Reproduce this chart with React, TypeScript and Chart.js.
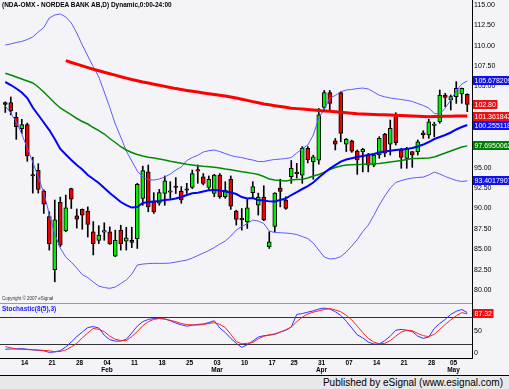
import React, { useEffect, useRef } from "react";
import { Chart, registerables } from "chart.js";

Chart.register(...registerables);

// ---- daily candles (trading-day index 0..84) ----
const OPEN = [
  103.0, 103.0, 101.2, 99.8, 100.3, 94.05, 94.7, 92.1, 89.0, 82.5,
  90.75, 87.25, 92.45, 89.1, 89.9, 89.7, 87.15, 86.1, 87.1, 87.15,
  84.15, 87.35, 86.0, 86.1, 86.3, 91.25, 94.5, 90.85, 90.65, 91.85,
  92.0, 92.62, 92.15, 92.3, 92.6, 94.65, 93.9, 92.6, 91.85, 94.1,
  91.45, 93.6, 89.7, 88.7, 88.4, 91.95, 90.4, 91.4, 85.3, 87.8,
  92.5, 91.05, 93.9, 94.32, 94.1, 97.4, 95.75, 95.95, 102.43, 104.23,
  98.3, 104.23, 97.9, 98.3, 97.06, 96.98, 96.57, 95.34, 96.6, 99.15,
  97.89, 101.5, 97.19, 96.17, 96.98, 96.98, 99.3, 99.03, 100.2, 100.66,
  103.94, 103.33, 103.74, 104.07, 104.03,
];
const HIGH = [
  103.1, 103.7, 101.8, 100.96, 100.5, 96.3, 95.5, 92.3, 89.6, 91.05,
  91.4, 91.65, 92.5, 89.95, 89.95, 90.2, 88.4, 87.9, 88.25, 87.75,
  87.35, 87.95, 87.7, 87.7, 93.1, 95.2, 95.35, 91.95, 92.35, 94.0,
  93.3, 93.8, 92.7, 93.1, 94.73, 95.35, 94.3, 94.0, 94.2, 94.3,
  93.3, 94.0, 89.8, 90.0, 91.25, 93.3, 91.9, 92.8, 87.15, 91.95,
  93.6, 91.45, 95.9, 95.55, 97.6, 97.6, 96.55, 102.3, 104.5, 104.5,
  98.6, 104.35, 98.6, 98.4, 97.19, 97.4, 96.78, 96.78, 98.82, 99.24,
  100.87, 101.77, 97.4, 97.52, 97.0, 98.42, 99.56, 100.96, 100.6, 104.56,
  104.15, 103.94, 105.58, 104.8, 104.1,
];
const LOW = [
  101.8, 101.5, 98.5, 99.2, 95.8, 91.9, 91.9, 89.4, 84.9, 81.0,
  85.3, 87.15, 90.0, 87.6, 87.45, 86.5, 84.3, 85.7, 86.1, 85.6,
  84.1, 84.9, 84.9, 85.2, 85.1, 90.4, 89.6, 89.4, 90.4, 90.4,
  91.25, 91.85, 90.65, 91.85, 92.45, 93.1, 92.9, 92.35, 91.45, 91.25,
  91.25, 89.9, 87.97, 87.35, 87.55, 91.25, 89.2, 88.5, 85.1, 87.15,
  90.2, 89.9, 93.1, 93.75, 93.1, 95.6, 93.6, 95.45, 101.9, 102.0,
  97.2, 98.2, 97.0, 96.9, 94.2, 94.5, 94.5, 95.13, 96.17, 96.36,
  96.57, 97.8, 94.94, 94.94, 95.06, 96.57, 98.62, 98.62, 98.8, 100.47,
  102.5, 102.1, 102.92, 102.92, 101.9,
];
const CLOSE = [
  102.8, 102.0, 100.05, 100.3, 96.45, 94.0, 92.35, 90.55, 85.65, 88.6,
  85.5, 90.1, 91.15, 88.7, 89.2, 88.05, 85.7, 86.75, 87.15, 85.65,
  86.1, 85.7, 86.4, 85.85, 92.97, 94.65, 90.2, 89.6, 91.95, 93.4,
  92.15, 92.58, 91.05, 92.25, 94.3, 94.6, 93.1, 93.6, 94.1, 91.45,
  92.27, 90.3, 88.67, 88.6, 90.1, 92.7, 91.4, 88.6, 85.9, 91.9,
  92.1, 90.0, 94.93, 94.28, 97.4, 96.0, 96.35, 101.5, 104.23, 102.9,
  97.9, 99.24, 98.5, 97.06, 95.96, 97.27, 95.34, 96.57, 98.62, 96.8,
  99.85, 98.08, 96.29, 97.4, 96.57, 98.2, 99.03, 100.66, 100.3, 103.94,
  103.66, 103.74, 104.77, 104.77, 102.8,
];

// ---- overlays ----
const BLUE_MA = [
  105.54, 105.17, 104.74, 104.25, 103.57, 102.41, 101.49, 100.57, 99.64, 98.54,
  97.31, 96.63, 95.96, 95.34, 94.79, 94.12, 93.62, 93.13, 92.52, 91.9,
  91.35, 90.8, 90.43, 90.12, 90.18, 90.68, 90.8, 90.86, 90.92, 91.04,
  91.11, 91.23, 91.41, 91.66, 91.87, 91.94, 92.09, 92.24, 92.27, 92.21,
  92.09, 91.97, 91.78, 91.41, 91.23, 91.29, 91.04, 90.98, 90.88, 90.86,
  91.04, 91.23, 91.66, 92.03, 92.4, 92.76, 93.19, 93.81, 94.36, 94.91,
  95.34, 95.77, 96.02, 96.17, 96.33, 96.45, 96.57, 96.7, 96.88, 97.0,
  97.09, 97.19, 97.25, 97.31, 97.43, 97.62, 97.86, 98.17, 98.54, 98.78,
  99.03, 99.34, 99.71, 100.01, 100.255118,
];
const GREEN_MA = [
  106.61, 106.4, 106.15, 105.91, 105.66, 105.42, 104.93, 104.31, 103.64, 102.96,
  102.35, 101.92, 101.49, 101.06, 100.69, 100.38, 99.95, 99.58, 99.15, 98.6,
  98.11, 97.59, 97.19, 96.88, 96.63, 96.45, 96.29, 96.2, 96.08, 95.96,
  95.8, 95.68, 95.55, 95.43, 95.34, 95.26, 95.18, 95.12, 95.06, 94.98,
  94.85, 94.75, 94.63, 94.51, 94.42, 94.32, 94.18, 93.93, 93.62, 93.5,
  93.44, 93.38, 93.5, 93.56, 93.59, 93.75, 93.99, 94.18, 94.48, 94.79,
  95.04, 95.22, 95.34, 95.37, 95.41, 95.43, 95.47, 95.49, 95.53, 95.63,
  95.71, 95.8, 95.9, 96.02, 96.14, 96.14, 96.17, 96.2, 96.33, 96.57,
  96.82, 97.06, 97.31, 97.56, 97.6950062,
];
const RED_MA = [
  null, null, null, null, null, null, null, null, null, null, null,
  108.16, 107.94, 107.73, 107.52, 107.31, 107.1, 106.92, 106.73, 106.56,
  106.38, 106.19, 106.02, 105.84, 105.69, 105.54, 105.41, 105.27, 105.14, 105.0,
  104.87, 104.73, 104.61, 104.5, 104.4, 104.3, 104.2, 104.1, 104.01, 103.91,
  103.81, 103.7, 103.58, 103.43, 103.28, 103.13, 102.99, 102.85, 102.74, 102.63,
  102.53, 102.43, 102.33, 102.27, 102.21, 102.15, 102.09, 102.04, 101.99, 101.94,
  101.88, 101.82, 101.76, 101.7, 101.63, 101.6, 101.57, 101.55, 101.52, 101.51,
  101.5, 101.47, 101.44, 101.4, 101.36, 101.33, 101.3, 101.28, 101.29, 101.31,
  101.33, 101.34, 101.35, 101.36, 101.361842,
];
const UPPER_BAND = [
  110.09, 110.21, 110.39, 110.52, 110.76, 111.07, 111.68, 112.24, 113.4, 113.77,
  113.89, 113.53, 112.79, 111.56, 110.09, 108.73, 107.42, 106.15, 104.31, 102.41,
  100.38, 98.78, 97.06, 95.84, 94.61, 93.87, 93.56, 93.5, 93.62, 93.87,
  94.24, 94.73, 95.1, 95.9, 96.26, 96.54, 96.94, 97.1, 97.19, 97.0,
  96.76, 96.51, 96.35, 96.26, 96.08, 95.96, 95.77, 95.77, 95.92, 96.02,
  96.08, 96.14, 96.26, 96.82, 97.37, 97.8, 99.03, 101.12, 102.22, 103.57,
  103.88, 104.35, 104.56, 104.62, 104.74, 104.8, 104.68, 104.31, 103.91, 103.72,
  103.57, 103.48, 103.39, 103.29, 103.15, 102.9, 102.65, 102.35, 101.67, 101.61,
  102.35, 103.33, 104.44, 105.3, 105.678209,
];
const LOWER_BAND = [
  102.59, 101.73, 100.63, 99.15, 97.43, 95.71, 93.87, 91.9, 89.32, 86.87,
  85.15, 84.04, 83.43, 82.69, 81.89, 81.52, 80.97, 80.48, 80.3, 80.2,
  80.36, 80.79, 81.22, 81.95, 83.06, 83.18, 83.24, 83.27, 83.27, 83.27,
  83.31, 83.43, 83.55, 83.67, 83.92, 84.23, 84.53, 84.84, 85.21, 85.64,
  86.01, 86.62, 87.36, 87.79, 88.16, 88.59, 88.46, 88.16, 87.24, 87.05,
  87.03, 86.99, 86.93, 86.81, 86.56, 86.31, 85.76, 84.9, 84.04, 83.8,
  83.86, 84.1, 84.66, 85.39, 86.19, 87.17, 87.97, 89.14, 90.43, 91.54,
  92.52, 93.19, 93.44, 93.62, 93.75, 93.81, 93.87, 94.12, 94.48, 94.24,
  93.93, 93.69, 93.44, 93.32, 93.4017907,
];

// ---- stochastic (8(5),3) ----
const STOCH_K = [
  9, 9.5, 10, 10.3, 9, 7.5, 6.5, 5.5, 2, 3,
  6, 14, 25, 37, 47, 57, 59, 56, 40, 30,
  27, 27, 31, 45, 60, 70, 75, 77, 77, 76,
  72, 67, 63, 60, 62, 64, 65, 68, 72, 56,
  46, 33, 22, 13, 19, 27, 36, 39, 40, 42,
  47, 51, 58, 86, 88, 91, 94, 98, 100, 98,
  92, 84, 71, 56, 41, 34, 25, 20.5, 20.6, 28,
  38, 51, 53, 51, 48, 38, 33, 36, 55, 66,
  75, 86, 93, 97, 90,
];
const STOCH_D = [
  14.7, 12, 9.5, 8.8, 8.2, 7.8, 7.4, 6.3, 5.5, 3.5,
  4, 7.5, 14, 22, 34, 45, 55, 53, 48, 38,
  31, 28.5, 28, 37, 48, 61, 70, 75, 77, 76,
  73, 70, 66, 63.5, 63, 62.6, 63.5, 66, 67.7, 64,
  57, 42, 26, 21, 22, 24, 32, 37.5, 41, 43,
  47, 52, 58, 70, 80, 87, 91, 94, 97, 99,
  96, 92, 84, 74, 60, 46, 33, 25, 21, 22,
  28, 38, 47, 51, 50, 44, 39, 37, 42, 53,
  64, 74, 83, 90, 87.32,
];

// ---- axis labels ----
const DAY_LABELS = ["14", "21", "28", "04", "11", "18", "25", "03", "10", "17", "25", "31", "07", "14", "21", "28", "05"];
const DAY_INDEX = [3, 8, 13, 18, 23, 28, 33, 38, 43, 48, 52, 57, 62, 67, 72, 77, 81];
const MONTH_LABELS = ["", "", "", "Feb", "", "", "", "Mar", "", "", "", "Apr", "", "", "", "", "May"];
const PRICE_TICKS = [80, 82.5, 85, 87.5, 90, 92.5, 95, 97.5, 100, 102.5, 105, 107.5, 110, 112.5, 115];
const STOCH_TICKS = [0, 20, 50, 80];

const X_MIN = -0.96;
const X_MAX = 84.86;
const FONT = "'Liberation Sans', Arial, sans-serif";
const BG = "#f4f4f8";
const AXIS_W = 37;

function drawBox(ctx: CanvasRenderingContext2D, x: number, y: number, text: string, color: string) {
  ctx.save();
  ctx.font = `7px ${FONT}`;
  const w = ctx.measureText(text).width + 3;
  ctx.fillStyle = color;
  ctx.fillRect(x, Math.round(y - 4.5), w, 9);
  ctx.fillStyle = "#ffffff";
  ctx.textBaseline = "middle";
  ctx.textAlign = "left";
  ctx.fillText(text, x + 1.5, Math.round(y - 4.5) + 5);
  ctx.restore();
}

export default function App() {
  const priceRef = useRef<HTMLCanvasElement | null>(null);
  const stochRef = useRef<HTMLCanvasElement | null>(null);

  useEffect(() => {
    if (!priceRef.current || !stochRef.current) return;
    Chart.defaults.font.family = FONT;
    const n = CLOSE.length;
    const idx = CLOSE.map((_, i) => i);
    const up = idx.map((i) => CLOSE[i] >= OPEN[i]);
    const pts = (arr: (number | null)[]) => arr.map((v, i) => ({ x: i, y: v }));
    const line = (arr: (number | null)[], color: string, width: number, order: number) => ({
      type: "line" as const,
      data: pts(arr),
      borderColor: color,
      borderWidth: width,
      pointRadius: 0,
      tension: 0,
      fill: false,
      order,
    });

    const priceBoxes = {
      id: "priceBoxes",
      afterDraw(chart: any) {
        const ys = chart.scales.y;
        const ctx = chart.ctx;
        const x = chart.chartArea.right + 1;
        const items: [number, string, string][] = [
          [UPPER_BAND[n - 1], String(UPPER_BAND[n - 1]), "#1010ee"],
          [CLOSE[n - 1], CLOSE[n - 1].toFixed(2), "#ee1010"],
          [RED_MA[n - 1] as number, String(RED_MA[n - 1]), "#ee1010"],
          [BLUE_MA[n - 1], String(BLUE_MA[n - 1]), "#1010ee"],
          [GREEN_MA[n - 1], String(GREEN_MA[n - 1]), "#008000"],
          [LOWER_BAND[n - 1], String(LOWER_BAND[n - 1]), "#1010ee"],
        ];
        items.forEach(([v, t, c]) => drawBox(ctx, x, ys.getPixelForValue(v), t, c));
      },
    };

    const price = new Chart(priceRef.current, {
      type: "line",
      data: {
        datasets: [
          {
            type: "bar",
            data: idx.map((i) => ({ x: i, y: [LOW[i], HIGH[i]] })) as any,
            backgroundColor: "#000000",
            borderWidth: 0,
            barThickness: 1,
            grouped: false,
            order: 10,
          },
          {
            type: "bar",
            data: idx.map((i) => ({ x: i, y: [OPEN[i], CLOSE[i]] })) as any,
            backgroundColor: up.map((u) => (u ? "#00ee00" : "#ee0000")),
            borderColor: "#000000",
            borderWidth: 1,
            borderSkipped: false,
            barThickness: 4,
            minBarLength: 1.5,
            grouped: false,
            order: 9,
          },
          line(UPPER_BAND, "#5a5aff", 1, 5),
          line(LOWER_BAND, "#5a5aff", 1, 5),
          line(GREEN_MA, "#008a00", 1.5, 3),
          line(BLUE_MA, "#0000ff", 2, 2),
          line(RED_MA, "#ff0000", 3, 1),
        ] as any,
      },
      options: {
        animation: false,
        responsive: false,
        layout: { padding: 0 },
        plugins: { legend: { display: false }, tooltip: { enabled: false } },
        scales: {
          x: { type: "linear", min: X_MIN, max: X_MAX, offset: false, display: false, grid: { offset: false } },
          y: {
            position: "right",
            min: 78.4,
            max: 115.61,
            afterFit: (s: any) => {
              s.width = AXIS_W;
              s.paddingTop = 0;
              s.paddingBottom = 0;
            },
            afterBuildTicks: (s: any) => {
              s.ticks = PRICE_TICKS.map((v) => ({ value: v }));
            },
            ticks: {
              callback: (v: any) => Number(v).toFixed(2),
              font: { size: 7 },
              color: "#000",
              padding: 2,
            },
            grid: { drawOnChartArea: false, drawTicks: false },
            border: { display: true, color: "#000", width: 1 },
          },
        },
      } as any,
      plugins: [priceBoxes],
    });

    const stochExtras = {
      id: "stochExtras",
      afterDraw(chart: any) {
        const ctx = chart.ctx;
        const a = chart.chartArea;
        ctx.save();
        ctx.strokeStyle = "#9a9a9a";
        ctx.lineWidth = 1;
        ctx.beginPath();
        ctx.moveTo(0, a.top + 0.5);
        ctx.lineTo(a.right, a.top + 0.5);
        ctx.stroke();
        ctx.restore();
        const ys = chart.scales.y;
        const v = STOCH_D[n - 1];
        drawBox(ctx, a.right + 1, ys.getPixelForValue(v), v.toFixed(2), "#ee1010");
      },
    };

    const stoch = new Chart(stochRef.current, {
      type: "line",
      data: {
        datasets: [
          line(STOCH_K, "#3030ff", 1, 2),
          line(STOCH_D, "#ff2020", 1, 1),
        ] as any,
      },
      options: {
        animation: false,
        responsive: false,
        layout: { padding: 0 },
        plugins: { legend: { display: false }, tooltip: { enabled: false } },
        scales: {
          x: {
            type: "linear",
            min: X_MIN,
            max: X_MAX,
            offset: false,
            position: "bottom",
            afterFit: (s: any) => {
              s.height = 17;
              s.paddingLeft = 0;
              s.paddingRight = 0;
            },
            afterBuildTicks: (s: any) => {
              s.ticks = DAY_INDEX.map((i) => ({ value: i + 0.5 }));
            },
            ticks: {
              autoSkip: false,
              maxRotation: 0,
              padding: 1,
              color: "#000",
              font: { size: 6.5, weight: "bold", lineHeight: 1.2 },
              callback: (_v: any, i: number) =>
                MONTH_LABELS[i] ? [DAY_LABELS[i], MONTH_LABELS[i]] : DAY_LABELS[i],
            },
            grid: { drawOnChartArea: false, drawTicks: false },
            border: { display: true, color: "#000", width: 1 },
          },
          y: {
            position: "right",
            min: -10.4,
            max: 111.3,
            afterFit: (s: any) => {
              s.width = AXIS_W;
              s.paddingTop = 0;
              s.paddingBottom = 0;
            },
            afterBuildTicks: (s: any) => {
              s.ticks = STOCH_TICKS.map((v) => ({ value: v }));
            },
            ticks: {
              callback: (v: any) => (v === 0 || v === 50 ? String(v) : ""),
              font: { size: 7 },
              color: "#000",
              padding: 2,
            },
            grid: {
              drawTicks: false,
              color: (c: any) =>
                c.tick && (c.tick.value === 20 || c.tick.value === 80) ? "#333333" : "rgba(0,0,0,0)",
            },
            border: { display: true, color: "#000", width: 1 },
          },
        },
      } as any,
      plugins: [stochExtras],
    });

    return () => {
      price.destroy();
      stoch.destroy();
    };
  }, []);

  return (
    <div
      style={{
        position: "fixed",
        left: 0,
        top: 0,
        width: 509,
        height: 389,
        background: BG,
        overflow: "hidden",
        fontFamily: FONT,
      }}
    >
      <canvas ref={priceRef} width={509} height={303} style={{ position: "absolute", left: 0, top: 0, width: 509, height: 303 }} />
      <canvas ref={stochRef} width={509} height={72} style={{ position: "absolute", left: 0, top: 303, width: 509, height: 72 }} />
      <div style={{ position: "absolute", left: 2, top: 1, fontSize: 6.5, fontWeight: "bold", color: "#000", whiteSpace: "nowrap", lineHeight: "8px" }}>
        (NDA-OMX - NORDEA BANK AB,D) Dynamic,0:00-24:00
      </div>
      <div style={{ position: "absolute", left: 2, top: 296, fontSize: 4.5, color: "#333", whiteSpace: "nowrap", lineHeight: "6px" }}>
        Copyright © 2007 eSignal
      </div>
      <div style={{ position: "absolute", left: 2, top: 305, fontSize: 6.5, fontWeight: "bold", color: "#1a1aff", whiteSpace: "nowrap", lineHeight: "8px" }}>
        Stochastic(8(5),3)
      </div>
      <div
        style={{
          position: "absolute",
          left: 0,
          top: 375,
          width: 509,
          height: 13,
          borderTop: "1px solid #000",
          background: "#e8e8e8",
          textAlign: "right",
          fontSize: 10,
          lineHeight: "13px",
          color: "#000",
          boxSizing: "content-box",
        }}
      >
        <span style={{ paddingRight: 6 }}>Published by eSignal (www.esignal.com)</span>
      </div>
    </div>
  );
}
